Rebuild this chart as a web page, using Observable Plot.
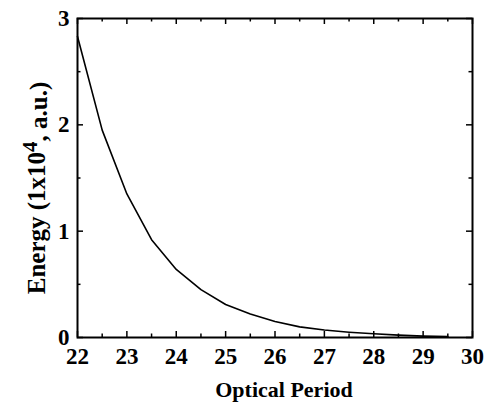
<!DOCTYPE html>
<html><head><meta charset="utf-8">
<script src="https://cdn.jsdelivr.net/npm/d3@7"></script>
<script src="https://cdn.jsdelivr.net/npm/@observablehq/plot@0.6"></script>
<style>body{margin:0;background:#fff}</style>
</head><body><div id="chart"></div>
<script>
const period = [22, 22.5, 23, 23.5, 24, 24.5, 25, 25.5, 26, 26.5, 27, 27.5, 28, 28.5, 29, 29.5];
const energy = [2.83, 1.95, 1.35, 0.92, 0.64, 0.45, 0.31, 0.22, 0.15, 0.10, 0.07, 0.05, 0.035, 0.022, 0.013, 0.008];
const xTicks = [22, 23, 24, 25, 26, 27, 28, 29, 30];
const xMinor = [22.5, 23.5, 24.5, 25.5, 26.5, 27.5, 28.5, 29.5];
const yTicks = [0, 1, 2, 3];
const yMinor = [0.5, 1.5, 2.5];
const xTitle = "Optical Period";
const yTitle = ["Energy (1x10", "4", ", a.u.)"];

const W = 487, H = 405, mL = 77, mR = 15, mT = 18, mB = 68;
const pW = W - mL - mR, pH = H - mT - mB;
const font = "'Liberation Serif', 'Times New Roman', serif";
const data = period.map((p, i) => ({p, e: energy[i]}));
const major = 6, minor = 3.5;

const chart = Plot.plot({
  width: W, height: H,
  marginLeft: mL, marginRight: mR, marginTop: mT, marginBottom: mB,
  style: {fontFamily: font, fontSize: "23px", fontWeight: "bold", color: "#000", background: "#fff"},
  x: {domain: [22, 30]},
  y: {domain: [0, 3]},
  marks: [
    Plot.axisX(xTicks, {tickSize: 0, tickPadding: 10, label: null, fontSize: 23, fontWeight: "bold", tickFormat: d => String(d)}),
    Plot.axisY(yTicks, {tickSize: 0, tickPadding: 8, label: null, fontSize: 23, fontWeight: "bold", tickFormat: d => String(d)}),
    Plot.tickX(xTicks, {x: d => d, insetTop: pH - major, strokeWidth: 1.5}),
    Plot.tickX(xTicks, {x: d => d, insetBottom: pH - major, strokeWidth: 1.5}),
    Plot.tickX(xMinor, {x: d => d, insetTop: pH - minor, strokeWidth: 1.5}),
    Plot.tickX(xMinor, {x: d => d, insetBottom: pH - minor, strokeWidth: 1.5}),
    Plot.tickY(yTicks, {y: d => d, insetRight: pW - major, strokeWidth: 1.5}),
    Plot.tickY(yTicks, {y: d => d, insetLeft: pW - major, strokeWidth: 1.5}),
    Plot.tickY(yMinor, {y: d => d, insetRight: pW - minor, strokeWidth: 1.5}),
    Plot.tickY(yMinor, {y: d => d, insetLeft: pW - minor, strokeWidth: 1.5}),
    Plot.line(data, {x: "p", y: "e", stroke: "#000", strokeWidth: 1.6}),
    Plot.frame({stroke: "#000", strokeWidth: 2})
  ]
});
document.getElementById("chart").appendChild(chart);

const svg = d3.select(chart);
svg.append("text")
  .attr("x", 284).attr("y", 397)
  .attr("text-anchor", "middle")
  .style("font-family", font).style("font-weight", "bold").style("font-size", "22px")
  .attr("fill", "#000")
  .text(xTitle);
const yt = svg.append("text")
  .attr("transform", `translate(45, 188) rotate(-90)`)
  .attr("text-anchor", "middle")
  .style("font-family", font).style("font-weight", "bold").style("font-size", "25px")
  .attr("fill", "#000");
yt.append("tspan").text(yTitle[0]);
yt.append("tspan").attr("dy", "-0.4em").style("font-size", "21px").text(yTitle[1]);
yt.append("tspan").attr("dy", "0.4em").text(yTitle[2]);
</script></body></html>
